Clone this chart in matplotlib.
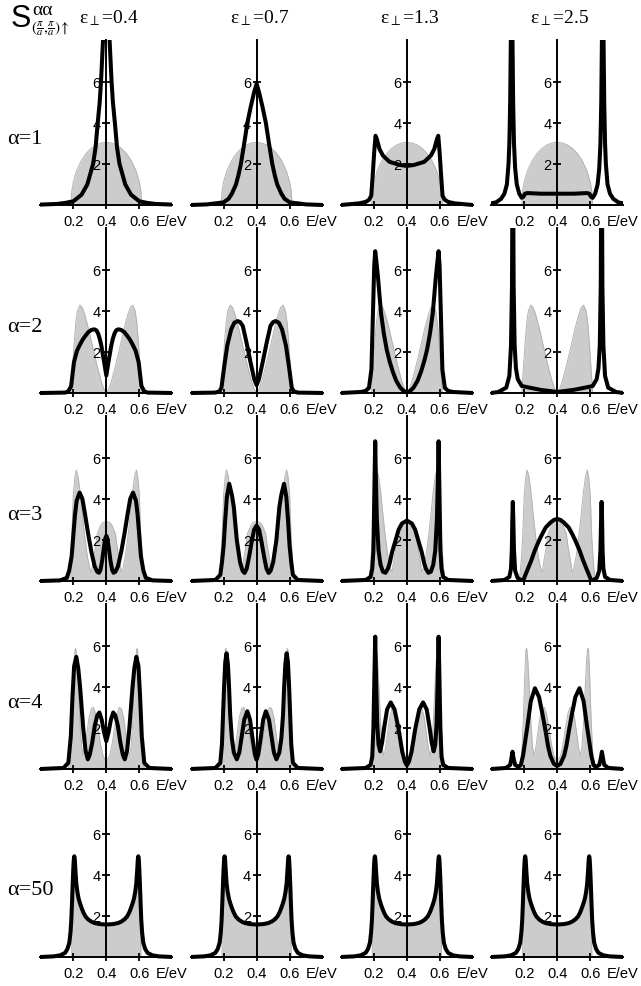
import matplotlib
matplotlib.use("Agg")
import matplotlib.pyplot as plt

# --- data: gray = reference spectrum, black = result ---
eps_labels = ["0.4", "0.7", "1.3", "2.5"]
alpha_labels = ["1", "2", "3", "4", "50"]
xtick_vals = [0.2, 0.4, 0.6]
xtick_labels = ["0.2", "0.4", "0.6"]
ytick_vals = [2, 4, 6]
ytick_labels = ["2", "4", "6"]

# alpha = 1
e_g1 = [0.0, 0.185, 0.19, 0.2, 0.22, 0.25, 0.28, 0.31, 0.34, 0.37, 0.4,
        0.43, 0.46, 0.49, 0.52, 0.55, 0.58, 0.6, 0.61, 0.615, 0.8]
s_g1 = [0, 0, 0.65, 1.12, 1.67, 2.18, 2.53, 2.77, 2.93, 3.02, 3.05,
        3.02, 2.93, 2.77, 2.53, 2.18, 1.67, 1.12, 0.65, 0, 0]
e_b1_04 = [0.0, 0.1, 0.15, 0.2, 0.25, 0.285, 0.32, 0.335, 0.348, 0.36, 0.368, 0.38, 0.39, 0.4,
           0.41, 0.42, 0.432, 0.44, 0.452, 0.465, 0.48, 0.515, 0.55, 0.6, 0.65, 0.7, 0.8]
s_b1_04 = [0.02, 0.05, 0.1, 0.18, 0.5, 1.0, 2.0, 2.8, 4.0, 5.0, 6.0, 8.0, 12.0, 16.0,
           12.0, 8.0, 6.0, 5.0, 4.0, 2.8, 2.0, 1.0, 0.5, 0.18, 0.1, 0.05, 0.02]
e_b1_07 = [0.0, 0.1, 0.2, 0.23, 0.25, 0.275, 0.29, 0.305, 0.325, 0.344, 0.365, 0.384, 0.4,
           0.416, 0.435, 0.456, 0.475, 0.495, 0.51, 0.525, 0.55, 0.57, 0.6, 0.7, 0.8]
s_b1_07 = [0.0, 0.03, 0.13, 0.3, 0.55, 1.0, 1.45, 2.0, 3.0, 4.0, 4.8, 5.45, 5.9,
           5.45, 4.8, 4.0, 3.0, 2.0, 1.45, 1.0, 0.55, 0.3, 0.13, 0.03, 0.0]
e_b1_13 = [0.0, 0.11, 0.15, 0.17, 0.184, 0.194, 0.202, 0.21, 0.218, 0.234, 0.255, 0.295, 0.356, 0.4,
           0.444, 0.505, 0.545, 0.566, 0.582, 0.59, 0.598, 0.606, 0.616, 0.63, 0.65, 0.69, 0.8]
s_b1_13 = [0.0, 0.08, 0.15, 0.25, 0.45, 1.6, 2.6, 3.37, 3.2, 2.72, 2.4, 2.1, 1.95, 1.9,
           1.95, 2.1, 2.4, 2.72, 3.2, 3.37, 2.6, 1.6, 0.45, 0.25, 0.15, 0.08, 0.0]
e_b1_25 = [0.0, 0.03, 0.06, 0.08, 0.095, 0.105, 0.11, 0.115, 0.119, 0.124, 0.129, 0.133, 0.138,
           0.145, 0.155, 0.17, 0.185, 0.195, 0.205, 0.22, 0.3, 0.4, 0.5, 0.58, 0.595, 0.605,
           0.615, 0.63, 0.645, 0.655, 0.662, 0.667, 0.671, 0.676, 0.681, 0.685, 0.69, 0.695,
           0.705, 0.72, 0.74, 0.77, 0.8]
s_b1_25 = [0.08, 0.13, 0.3, 0.55, 1.0, 2.0, 3.0, 5.0, 8.0, 15.0, 8.0, 5.0, 3.0,
           1.8, 1.0, 0.55, 0.35, 0.4, 0.55, 0.58, 0.55, 0.55, 0.55, 0.58, 0.55, 0.4,
           0.35, 0.55, 1.0, 1.8, 3.0, 5.0, 8.0, 15.0, 8.0, 5.0, 3.0, 2.0,
           1.0, 0.55, 0.3, 0.13, 0.08]

# alpha = 2
e_g2 = [0.0, 0.185, 0.195, 0.205, 0.215, 0.225, 0.24, 0.255, 0.27, 0.29, 0.31, 0.33, 0.35, 0.37,
        0.385, 0.4, 0.415, 0.43, 0.45, 0.47, 0.49, 0.51, 0.53, 0.545, 0.56, 0.575, 0.585, 0.595,
        0.605, 0.615, 0.8]
s_g2 = [0, 0, 1.2, 2.4, 3.4, 4.0, 4.28, 4.15, 3.8, 3.2, 2.5, 1.8, 1.15, 0.55,
        0.2, 0.0, 0.2, 0.55, 1.15, 1.8, 2.5, 3.2, 3.8, 4.15, 4.28, 4.0, 3.4, 2.4,
        1.2, 0, 0]
e_b2_04 = [0.0, 0.15, 0.17, 0.187, 0.204, 0.222, 0.24, 0.257, 0.275, 0.292, 0.31, 0.327, 0.34,
           0.35, 0.36, 0.37, 0.385, 0.4, 0.415, 0.43, 0.44, 0.45, 0.46, 0.473, 0.49, 0.508,
           0.525, 0.543, 0.56, 0.578, 0.596, 0.613, 0.63, 0.65, 0.8]
s_b2_04 = [0.0, 0.02, 0.08, 0.34, 1.5, 2.05, 2.35, 2.6, 2.8, 2.97, 3.07, 3.1, 3.05,
           2.9, 2.65, 2.3, 1.6, 0.85, 1.6, 2.3, 2.65, 2.9, 3.05, 3.1, 3.07, 2.97,
           2.8, 2.6, 2.35, 2.05, 1.5, 0.34, 0.08, 0.02, 0.0]
e_b2_07 = [0.0, 0.15, 0.175, 0.187, 0.204, 0.222, 0.246, 0.265, 0.285, 0.3, 0.316, 0.339, 0.363,
           0.386, 0.4, 0.414, 0.437, 0.461, 0.484, 0.5, 0.515, 0.535, 0.554, 0.578, 0.596, 0.613,
           0.625, 0.65, 0.8]
s_b2_07 = [0.0, 0.02, 0.08, 0.26, 1.3, 2.3, 3.1, 3.42, 3.5, 3.45, 3.27, 2.45, 1.5,
           0.67, 0.38, 0.67, 1.5, 2.45, 3.27, 3.45, 3.5, 3.42, 3.1, 2.3, 1.3, 0.26,
           0.08, 0.02, 0.0]
e_b2_13 = [0.0, 0.12, 0.15, 0.17, 0.185, 0.196, 0.202, 0.208, 0.215, 0.224, 0.243, 0.26, 0.278,
           0.295, 0.313, 0.335, 0.36, 0.38, 0.4, 0.42, 0.44, 0.465, 0.487, 0.505, 0.522, 0.54,
           0.557, 0.576, 0.585, 0.592, 0.598, 0.604, 0.615, 0.63, 0.65, 0.68, 0.8]
s_b2_13 = [0.0, 0.05, 0.1, 0.25, 1.15, 4.4, 6.2, 6.9, 6.4, 5.7, 3.9, 2.9, 2.1,
           1.55, 1.07, 0.6, 0.26, 0.1, 0.03, 0.1, 0.26, 0.6, 1.07, 1.55, 2.1, 2.9,
           3.9, 5.7, 6.4, 6.9, 6.2, 4.4, 1.15, 0.25, 0.1, 0.05, 0.0]
e_b2_25 = [0.0, 0.044, 0.091, 0.11, 0.12, 0.126, 0.131, 0.136, 0.142, 0.15, 0.161, 0.185, 0.232,
           0.302, 0.4, 0.498, 0.568, 0.615, 0.639, 0.65, 0.658, 0.664, 0.669, 0.674, 0.68, 0.69,
           0.709, 0.756, 0.8]
s_b2_25 = [0.0, 0.05, 0.26, 0.83, 2.3, 5.2, 14.0, 5.2, 2.3, 1.2, 0.67, 0.34, 0.26,
           0.15, 0.05, 0.15, 0.26, 0.34, 0.67, 1.2, 2.3, 5.2, 14.0, 5.2, 2.3, 0.83,
           0.26, 0.05, 0.0]

# alpha = 3
e_g3 = [0.0, 0.17, 0.18, 0.19, 0.2, 0.21, 0.218, 0.228, 0.24, 0.255, 0.27, 0.285, 0.3, 0.31,
        0.32, 0.335, 0.345, 0.365, 0.38, 0.4, 0.42, 0.435, 0.455, 0.465, 0.48, 0.49, 0.5,
        0.515, 0.53, 0.545, 0.56, 0.572, 0.582, 0.59, 0.6, 0.61, 0.62, 0.63, 0.8]
s_g3 = [0, 0, 0.8, 2.0, 4.2, 5.1, 5.4, 5.1, 4.4, 3.2, 2.1, 1.2, 0.6, 0.45,
        1.0, 1.7, 2.3, 2.7, 2.85, 2.9, 2.85, 2.7, 2.3, 1.7, 1.0, 0.45, 0.6,
        1.2, 2.1, 3.2, 4.4, 5.1, 5.4, 5.1, 4.2, 2.0, 0.8, 0, 0]
e_b3_04 = [0.0, 0.12, 0.16, 0.175, 0.19, 0.2, 0.21, 0.22, 0.238, 0.255, 0.27, 0.29, 0.31, 0.33,
           0.345, 0.356, 0.365, 0.375, 0.385, 0.393, 0.4, 0.407, 0.415, 0.425, 0.435, 0.444,
           0.455, 0.47, 0.49, 0.51, 0.53, 0.545, 0.562, 0.58, 0.59, 0.6, 0.61, 0.625, 0.64,
           0.68, 0.8]
s_b3_04 = [0.0, 0.03, 0.15, 0.5, 1.2, 2.2, 3.2, 3.9, 4.3, 4.0, 3.3, 2.3, 1.4, 0.7,
           0.45, 0.4, 0.55, 1.0, 1.6, 2.05, 2.2, 2.05, 1.6, 1.0, 0.55, 0.4,
           0.45, 0.7, 1.4, 2.3, 3.3, 4.0, 4.3, 3.9, 3.2, 2.2, 1.2, 0.5, 0.15,
           0.03, 0.0]
e_b3_07 = [0.0, 0.15, 0.18, 0.19, 0.2, 0.21, 0.22, 0.234, 0.25, 0.262, 0.28, 0.3, 0.315, 0.327,
           0.34, 0.355, 0.37, 0.385, 0.4, 0.415, 0.43, 0.445, 0.46, 0.473, 0.485, 0.5, 0.52,
           0.538, 0.55, 0.566, 0.58, 0.59, 0.6, 0.61, 0.62, 0.65, 0.8]
s_b3_07 = [0.0, 0.05, 0.3, 0.9, 1.7, 3.0, 4.1, 4.73, 4.2, 3.6, 2.0, 0.9, 0.5, 0.39,
           0.6, 1.2, 1.9, 2.5, 2.7, 2.5, 1.9, 1.2, 0.6, 0.39, 0.5, 0.9, 2.0,
           3.6, 4.2, 4.73, 4.1, 3.0, 1.7, 0.9, 0.3, 0.05, 0.0]
e_b3_13 = [0.0, 0.15, 0.18, 0.19, 0.197, 0.2, 0.204, 0.208, 0.212, 0.218, 0.228, 0.24, 0.255,
           0.27, 0.285, 0.295, 0.31, 0.332, 0.35, 0.37, 0.4, 0.43, 0.45, 0.468, 0.49, 0.505,
           0.515, 0.53, 0.545, 0.56, 0.572, 0.582, 0.588, 0.592, 0.596, 0.6, 0.603, 0.61,
           0.62, 0.65, 0.8]
s_b3_13 = [0.0, 0.05, 0.2, 0.6, 1.5, 3.0, 5.0, 6.8, 5.0, 3.0, 1.5, 0.8, 0.45,
           0.4, 0.6, 0.85, 1.4, 2.0, 2.5, 2.8, 2.94, 2.8, 2.5, 2.0, 1.4, 0.85,
           0.6, 0.4, 0.45, 0.8, 1.5, 3.0, 5.0, 6.8, 5.0, 3.0, 1.5, 0.6,
           0.2, 0.05, 0.0]
e_b3_25 = [0.0, 0.08, 0.11, 0.12, 0.125, 0.128, 0.131, 0.134, 0.138, 0.145, 0.16, 0.18, 0.195,
           0.21, 0.243, 0.265, 0.29, 0.31, 0.33, 0.36, 0.38, 0.4, 0.42, 0.44, 0.47, 0.49, 0.51,
           0.535, 0.557, 0.59, 0.605, 0.62, 0.64, 0.655, 0.662, 0.666, 0.669, 0.672, 0.675,
           0.68, 0.69, 0.72, 0.8]
s_b3_25 = [0.0, 0.05, 0.2, 0.6, 1.5, 3.0, 3.85, 3.0, 1.5, 0.5, 0.15, 0.05, 0.05,
           0.35, 1.0, 1.5, 1.97, 2.3, 2.6, 2.85, 2.97, 3.02, 2.97, 2.85, 2.6, 2.3, 1.97,
           1.5, 1.0, 0.35, 0.05, 0.05, 0.15, 0.5, 1.5, 3.0, 3.85, 3.0, 1.5,
           0.6, 0.2, 0.05, 0.0]

# alpha = 4
e_g4 = [0.0, 0.17, 0.185, 0.195, 0.203, 0.21, 0.215, 0.222, 0.23, 0.24, 0.25, 0.258, 0.268,
        0.28, 0.295, 0.31, 0.322, 0.335, 0.35, 0.365, 0.38, 0.39, 0.4, 0.41, 0.42, 0.435,
        0.45, 0.465, 0.478, 0.49, 0.505, 0.52, 0.532, 0.542, 0.55, 0.56, 0.57, 0.578,
        0.585, 0.59, 0.597, 0.605, 0.615, 0.63, 0.8]
s_g4 = [0, 0, 0.8, 2.5, 4.5, 5.8, 5.87, 5.3, 4.0, 2.3, 1.1, 0.65, 0.9,
        1.6, 2.5, 2.95, 3.0, 2.7, 2.0, 1.2, 0.65, 0.5, 0.48, 0.5, 0.65, 1.2,
        2.0, 2.7, 3.0, 2.95, 2.5, 1.6, 0.9, 0.65, 1.1, 2.3, 4.0, 5.3,
        5.87, 5.8, 4.5, 2.5, 0.8, 0, 0]
e_b4_04 = [0.0, 0.14, 0.17, 0.185, 0.195, 0.205, 0.218, 0.23, 0.241, 0.26, 0.274, 0.288, 0.3,
           0.315, 0.33, 0.345, 0.358, 0.372, 0.386, 0.4, 0.414, 0.428, 0.442, 0.455, 0.47,
           0.485, 0.5, 0.512, 0.526, 0.54, 0.559, 0.57, 0.582, 0.595, 0.605, 0.615, 0.63,
           0.66, 0.8]
s_b4_04 = [0.0, 0.05, 0.3, 1.6, 3.5, 5.0, 5.46, 4.9, 4.0, 2.0, 0.9, 0.47, 0.7,
           1.3, 2.1, 2.6, 2.75, 2.4, 1.8, 1.35, 1.8, 2.4, 2.75, 2.6, 2.1,
           1.3, 0.7, 0.47, 0.9, 2.0, 4.0, 4.9, 5.46, 5.0, 3.5, 1.6, 0.3,
           0.05, 0.0]
e_b4_07 = [0.0, 0.15, 0.18, 0.19, 0.196, 0.203, 0.21, 0.218, 0.226, 0.233, 0.24, 0.25, 0.262,
           0.28, 0.295, 0.31, 0.325, 0.344, 0.36, 0.375, 0.39, 0.4, 0.41, 0.425, 0.44, 0.456,
           0.475, 0.49, 0.505, 0.52, 0.538, 0.55, 0.56, 0.567, 0.574, 0.582, 0.59, 0.597,
           0.604, 0.61, 0.62, 0.65, 0.8]
s_b4_07 = [0.0, 0.05, 0.3, 1.2, 2.5, 4.0, 5.2, 5.63, 5.1, 4.0, 2.6, 1.5, 0.8,
           0.47, 0.8, 1.6, 2.4, 2.81, 2.4, 1.5, 0.7, 0.45, 0.7, 1.5, 2.4, 2.81,
           2.4, 1.6, 0.8, 0.47, 0.8, 1.5, 2.6, 4.0, 5.1, 5.63, 5.2, 4.0,
           2.5, 1.2, 0.3, 0.05, 0.0]
e_b4_13 = [0.0, 0.15, 0.18, 0.19, 0.197, 0.203, 0.208, 0.213, 0.22, 0.228, 0.238, 0.25, 0.262,
           0.28, 0.302, 0.325, 0.349, 0.372, 0.388, 0.4, 0.412, 0.428, 0.451, 0.475, 0.498,
           0.52, 0.538, 0.55, 0.562, 0.572, 0.58, 0.587, 0.592, 0.597, 0.603, 0.61, 0.62,
           0.65, 0.8]
s_b4_13 = [0.0, 0.05, 0.2, 0.6, 2.0, 4.5, 6.44, 4.5, 2.2, 1.2, 0.86, 1.3, 2.0,
           2.9, 3.24, 2.9, 1.97, 0.83, 0.35, 0.18, 0.35, 0.83, 1.97, 2.9, 3.24,
           2.9, 2.0, 1.3, 0.86, 1.2, 2.2, 4.5, 6.44, 4.5, 2.0, 0.6, 0.2,
           0.05, 0.0]
e_b4_25 = [0.0, 0.09, 0.115, 0.122, 0.129, 0.136, 0.145, 0.165, 0.18, 0.193, 0.205, 0.218, 0.24,
           0.265, 0.29, 0.31, 0.326, 0.345, 0.358, 0.38, 0.4, 0.42, 0.442, 0.455, 0.474, 0.49,
           0.51, 0.535, 0.56, 0.582, 0.595, 0.607, 0.62, 0.635, 0.655, 0.664, 0.671, 0.678,
           0.685, 0.71, 0.8]
s_b4_25 = [0.0, 0.05, 0.2, 0.5, 0.84, 0.5, 0.2, 0.1, 0.2, 0.65, 1.3, 2.0, 3.3,
           3.93, 3.5, 2.7, 2.0, 1.1, 0.65, 0.25, 0.15, 0.25, 0.65, 1.1, 2.0, 2.7,
           3.5, 3.93, 3.3, 2.0, 1.3, 0.65, 0.2, 0.1, 0.2, 0.5, 0.84, 0.5,
           0.2, 0.05, 0.0]

# alpha = 50 (same shape in all four columns)
e_g5 = [0.0, 0.19, 0.193, 0.197, 0.202, 0.206, 0.213, 0.218, 0.224, 0.232, 0.241, 0.252, 0.262,
        0.274, 0.29, 0.31, 0.33, 0.36, 0.4, 0.44, 0.47, 0.49, 0.51, 0.526, 0.538, 0.548,
        0.559, 0.568, 0.576, 0.582, 0.587, 0.594, 0.598, 0.603, 0.607, 0.61, 0.8]
s_g5 = [0, 0, 2.0, 3.8, 4.6, 4.7, 4.1, 3.5, 3.1, 2.8, 2.55, 2.3, 2.1,
        1.95, 1.8, 1.7, 1.63, 1.58, 1.56, 1.58, 1.63, 1.7, 1.8, 1.95, 2.1, 2.3,
        2.55, 2.8, 3.1, 3.5, 4.1, 4.7, 4.6, 3.8, 2.0, 0, 0]
e_b5 = [0.0, 0.08, 0.12, 0.15, 0.165, 0.176, 0.183, 0.188, 0.192, 0.196, 0.2, 0.203, 0.206,
        0.209, 0.213, 0.218, 0.224, 0.232, 0.241, 0.252, 0.262, 0.274, 0.29, 0.31, 0.33,
        0.36, 0.4, 0.44, 0.47, 0.49, 0.51, 0.526, 0.538, 0.548, 0.559, 0.568, 0.576, 0.582,
        0.587, 0.591, 0.594, 0.597, 0.6, 0.604, 0.608, 0.612, 0.617, 0.624, 0.635, 0.65,
        0.68, 0.72, 0.8]
s_b5 = [0.0, 0.03, 0.08, 0.2, 0.4, 0.7, 1.2, 1.8, 2.6, 3.5, 4.3, 4.75, 4.9,
        4.75, 4.2, 3.6, 3.2, 2.85, 2.6, 2.35, 2.15, 1.97, 1.83, 1.72, 1.65,
        1.6, 1.58, 1.6, 1.65, 1.72, 1.83, 1.97, 2.15, 2.35, 2.6, 2.85, 3.2, 3.6,
        4.2, 4.75, 4.9, 4.75, 4.3, 3.5, 2.6, 1.8, 1.2, 0.7, 0.4, 0.2,
        0.08, 0.03, 0.0]

gray_rows = [(e_g1, s_g1), (e_g2, s_g2), (e_g3, s_g3), (e_g4, s_g4), (e_g5, s_g5)]
black_rows = [
    [(e_b1_04, s_b1_04), (e_b1_07, s_b1_07), (e_b1_13, s_b1_13), (e_b1_25, s_b1_25)],
    [(e_b2_04, s_b2_04), (e_b2_07, s_b2_07), (e_b2_13, s_b2_13), (e_b2_25, s_b2_25)],
    [(e_b3_04, s_b3_04), (e_b3_07, s_b3_07), (e_b3_13, s_b3_13), (e_b3_25, s_b3_25)],
    [(e_b4_04, s_b4_04), (e_b4_07, s_b4_07), (e_b4_13, s_b4_13), (e_b4_25, s_b4_25)],
    [(e_b5, s_b5), (e_b5, s_b5), (e_b5, s_b5), (e_b5, s_b5)],
]

# --- layout (pixels) ---
W, H = 641, 987
plt.rcParams['font.family'] = ['Liberation Sans', 'DejaVu Sans']
plt.rcParams['mathtext.fontset'] = 'stix'

fig = plt.figure(figsize=(W / 100, H / 100), dpi=100)

px_per_e = 165.0
px_per_s = 20.55
y_lo, y_hi = -0.12, 8.05

for r in range(5):
    base = 206 + 188 * r
    for c in range(4):
        axis_x = 106.3 + 150.3 * c
        left = axis_x - 0.4 * px_per_e
        bottom = base - y_lo * px_per_s
        ax = fig.add_axes([left / W, 1 - bottom / H,
                           0.8 * px_per_e / W, (y_hi - y_lo) * px_per_s / H])
        eg, sg = gray_rows[r]
        eb, sb = black_rows[r][c]
        ax.fill_between(eg, sg, 0, color='#cccccc', lw=0, zorder=1)
        ax.plot(eg, sg, color='#b3b3b3', lw=0.7, zorder=1.2)
        ax.plot(eb, sb, color='black', lw=2.9, solid_joinstyle='round', zorder=2)
        ax.set_xlim(0, 0.8)
        ax.set_ylim(y_lo, y_hi)
        ax.patch.set_visible(False)
        for side in ('top', 'right'):
            ax.spines[side].set_visible(False)
        ax.spines['left'].set_position(('data', 0.4))
        ax.spines['bottom'].set_position(('data', 0))
        ax.spines['left'].set_bounds(0, y_hi)
        ax.spines['left'].set_linewidth(1.4)
        ax.spines['bottom'].set_linewidth(1.4)
        ax.spines['left'].set_zorder(3)
        ax.set_xticks(xtick_vals)
        ax.set_xticklabels(xtick_labels)
        ax.set_yticks(ytick_vals)
        ax.set_yticklabels(ytick_labels)
        ax.tick_params(axis='x', direction='inout', length=6, width=1.3, pad=3.5,
                       labelsize=10.5)
        ax.tick_params(axis='y', direction='inout', length=6, width=1.3, pad=1,
                       labelsize=10.5)
        ax.annotate('E/eV', xy=(0.70, 0), xycoords='data', xytext=(0, -6.5),
                    textcoords='offset points', ha='left', va='top', fontsize=10.5)

# column titles
for c, lab in enumerate(eps_labels):
    fig.text((109 + 150.3 * c) / W, 1 - 18 / H, r'ε$_{\perp}$=' + lab,
             family='Liberation Serif', fontsize=14, ha='center', va='center')

# row labels
for r, lab in enumerate(alpha_labels):
    fig.text(7 / W, 1 - (139 + 188 * r) / H, 'α=' + lab,
             family='Liberation Serif', fontsize=16, ha='left', va='center')

# top-left quantity label
fig.text(11 / W, 1 - 27 / H, 'S', fontsize=22, ha='left', va='baseline')
fig.text(32 / W, 1 - 15 / H, 'αα', family='Liberation Serif', fontsize=14,
         ha='left', va='baseline')
fig.text(31 / W, 1 - 32 / H, r'$(\frac{\pi}{a},\!\frac{\pi}{a})\!\uparrow$', fontsize=11,
         ha='left', va='baseline')

fig.savefig('out.png', dpi=100)
